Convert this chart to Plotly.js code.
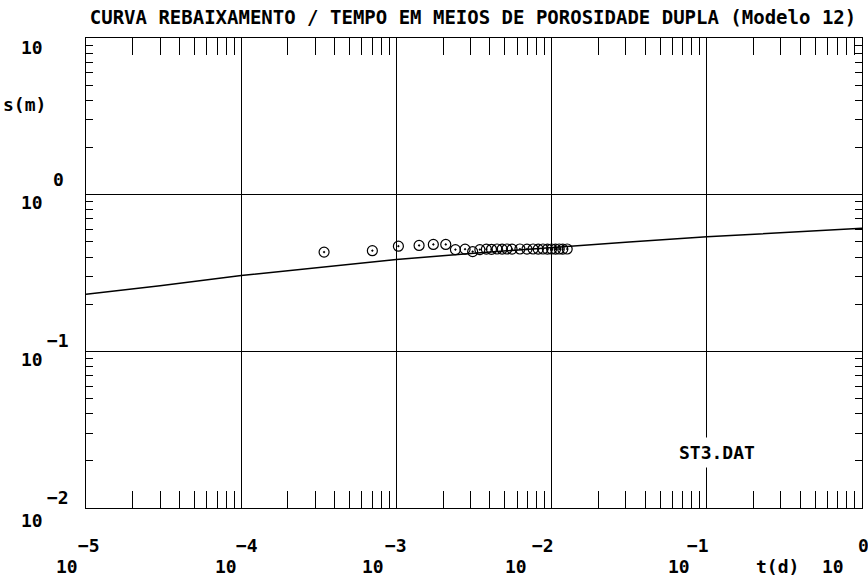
<!DOCTYPE html>
<html>
<head>
<meta charset="utf-8">
<script src="https://cdn.plot.ly/plotly-3.0.1.min.js"></script>
<style>
html,body{margin:0;padding:0;background:#fff;}
#chart{width:868px;height:578px;}
</style>
</head>
<body>
<div id="chart"></div>
<script>
// ---- data ----
const obsTime = [3.42e-4, 7.00e-4, 1.03e-3, 1.40e-3, 1.73e-3, 2.08e-3, 2.40e-3, 2.77e-3, 3.10e-3,
  3.45e-3, 3.80e-3, 4.10e-3, 4.45e-3, 4.80e-3, 5.15e-3, 5.56e-3, 6.25e-3, 6.94e-3, 7.60e-3,
  8.20e-3, 8.80e-3, 9.40e-3, 1.00e-2, 1.06e-2, 1.12e-2, 1.18e-2, 1.26e-2];
const obsDrawdown = [0.430, 0.439, 0.469, 0.474, 0.481, 0.481, 0.446, 0.449, 0.433,
  0.446, 0.449, 0.448, 0.450, 0.449, 0.450, 0.449, 0.450, 0.449, 0.450,
  0.449, 0.450, 0.449, 0.450, 0.449, 0.450, 0.449, 0.450];
const modelTime = [1e-5, 3.0e-5, 1e-4, 3.16e-4, 1e-3, 3.16e-3, 1e-2, 3.16e-2, 1e-1, 3.16e-1, 1];
const modelDrawdown = [0.231, 0.262, 0.305, 0.342, 0.386, 0.423, 0.461, 0.499, 0.538, 0.574, 0.611];
const xDecades = [-5, -4, -3, -2, -1, 0];
const yDecades = [1, 0, -1, -2];
const titleText = 'CURVA REBAIXAMENTO / TEMPO EM MEIOS DE POROSIDADE DUPLA (Modelo 12)';
const xAxisLabel = 't(d)';
const yAxisLabel = 's(m)';
const fileLabel = 'ST3.DAT';

// ---- layout helpers (pixel offsets of the label pieces) ----
const FONT = {family: 'DejaVu Sans Mono', size: 18, color: '#000', weight: 'bold'};
const L = 86, R = 6, T = 38, B = 70;
const xBaseShift = [-19, -15, -23, -36, -28, -29];   // "10" offset from the decade
const xExpShift  = [3, 6, 0, -9, -9, 1];             // exponent offset from the decade
const yBaseShift = [-9, -8, -8, -12];                // "10" offset (down) from the decade
const yExpShift  = [0, 15, 11, 11];                  // exponent offset (up)

function expText(e) { return e < 0 ? '\u2212' + Math.abs(e) : String(e); }

const ann = [];
xDecades.forEach((e, i) => {
  ann.push({xref: 'x', yref: 'paper', x: e, y: 0, yanchor: 'middle', xanchor: 'center',
    xshift: xBaseShift[i], yshift: -(566 - 508), text: '10', showarrow: false, font: FONT});
  ann.push({xref: 'x', yref: 'paper', x: e, y: 0, yanchor: 'middle', xanchor: 'center',
    xshift: xExpShift[i], yshift: -(545 - 508), text: expText(e), showarrow: false, font: FONT});
});
yDecades.forEach((e, i) => {
  ann.push({xref: 'paper', yref: 'y', x: 0, y: e, xanchor: 'center', yanchor: 'middle',
    xshift: 32 - L, yshift: yBaseShift[i], text: '10', showarrow: false, font: FONT});
  if (e !== 1) {
    ann.push({xref: 'paper', yref: 'y', x: 0, y: e, xanchor: 'center', yanchor: 'middle',
      xshift: 58 - L, yshift: yExpShift[i], text: expText(e), showarrow: false, font: FONT});
  }
});
ann.push({xref: 'paper', yref: 'paper', x: 0, y: 0, xanchor: 'center', yanchor: 'middle',
  xshift: 777 - L, yshift: -(566 - 508), text: xAxisLabel, showarrow: false, font: FONT});
ann.push({xref: 'paper', yref: 'paper', x: 0, y: 1, xanchor: 'center', yanchor: 'middle',
  xshift: 24 - L, yshift: -(104 - T), text: yAxisLabel, showarrow: false, font: FONT});
ann.push({xref: 'paper', yref: 'paper', x: 0, y: 0, xanchor: 'center', yanchor: 'middle',
  xshift: 717 - L, yshift: 508 - 452, text: fileLabel, showarrow: false, font: FONT,
  bgcolor: '#fff', borderpad: 4});

const axisCommon = {
  type: 'log', showline: true, linecolor: '#000', linewidth: 1, mirror: 'ticks',
  showgrid: true, gridcolor: '#000', gridwidth: 1, dtick: 1, zeroline: false,
  ticks: 'inside', tickcolor: '#000', showticklabels: false, fixedrange: true
};

const traces = [
  {x: modelTime, y: modelDrawdown, type: 'scatter', mode: 'lines',
   line: {color: '#000', width: 1.5}, hoverinfo: 'skip', cliponaxis: true},
  {x: obsTime, y: obsDrawdown, type: 'scatter', mode: 'markers',
   marker: {symbol: 'circle-open-dot', size: 10, color: '#000', line: {width: 1.2, color: '#000'}},
   hoverinfo: 'skip'}
];

const layout = {
  width: 868, height: 578, margin: {l: L, r: R, t: T, b: B},
  paper_bgcolor: '#fff', plot_bgcolor: '#fff', showlegend: false,
  title: {text: titleText, font: Object.assign({}, FONT, {size: 19}),
    x: 473 / 868, xanchor: 'center', y: 1 - 17 / 578, yanchor: 'middle', xref: 'container', yref: 'container'},
  xaxis: Object.assign({}, axisCommon, {range: [-5, 0], ticklen: 17,
    minor: {ticks: 'inside', ticklen: 17, tickcolor: '#000', dtick: 'D1', showgrid: false}}),
  yaxis: Object.assign({}, axisCommon, {range: [-2, 1], ticklen: 7,
    minor: {ticks: 'inside', ticklen: 7, tickcolor: '#000', dtick: 'D1', showgrid: false}}),
  annotations: ann
};

Plotly.newPlot('chart', traces, layout, {staticPlot: true, displayModeBar: false});
</script>
</body>
</html>
